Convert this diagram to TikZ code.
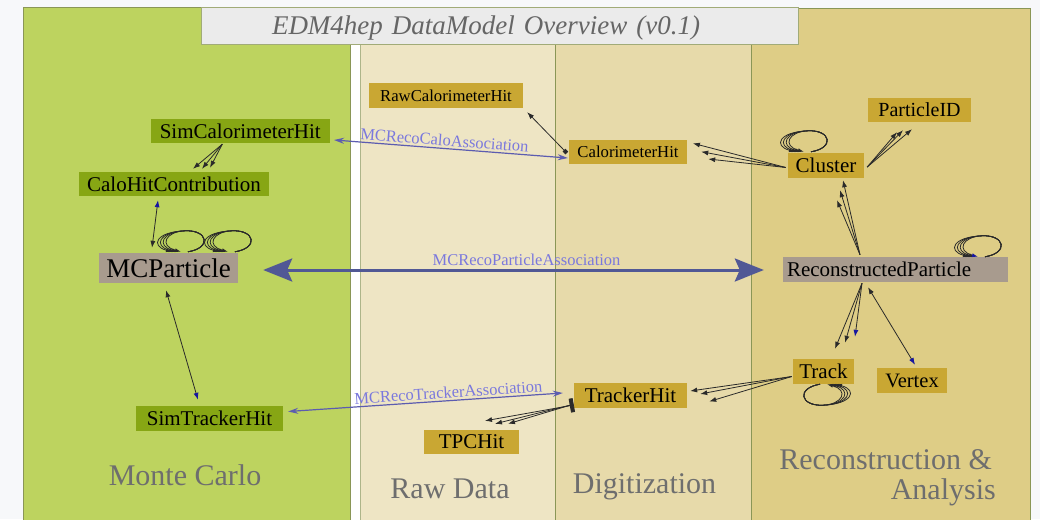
\documentclass[tikz,border=0pt]{standalone}
\usepackage{fontspec}
\setmainfont{Liberation Serif}
\usetikzlibrary{arrows.meta,calc}

\definecolor{pagebg}{HTML}{F7F8FA}
\definecolor{mcarea}{HTML}{BDD35F}
\definecolor{rawarea}{HTML}{EEE5C4}
\definecolor{digiarea}{HTML}{E7DAAA}
\definecolor{recoarea}{HTML}{DECD86}
\definecolor{areaedge}{HTML}{8A9656}
\definecolor{titlefill}{HTML}{EBEBEB}
\definecolor{titletext}{HTML}{666666}
\definecolor{simfill}{HTML}{87A614}
\definecolor{datafill}{HTML}{C9A733}
\definecolor{corefill}{HTML}{A89B8E}
\definecolor{areatext}{HTML}{6E6E6E}
\definecolor{assoc}{HTML}{5C5CB0}
\definecolor{assoctext}{HTML}{7A78DD}
\definecolor{assocthick}{HTML}{515895}
\definecolor{linkcol}{HTML}{2A2A2A}
\definecolor{tipblue}{HTML}{1616A0}

% a fan of self-referencing edges, drawn in a scope placed on the node border
\newcommand\loopfan[2]{%
  \begin{scope}[#1]
    \foreach \n in {0,1,2}
      \draw[loopline] (0,0) .. controls (24,-4) and (20,-22) .. (-3,-21)
        .. controls ({-32+3*\n},-20) and ({-38+3*\n},-6) .. ({-16+3*\n},0);
    \draw[loopline, -{Latex[length=6pt,width=4pt,color=#2]}] (0,0)
      .. controls (24,-4) and (20,-22) .. (-3,-21)
      .. controls (-23,-20) and (-29,-6) .. (-7,0);
  \end{scope}}

\begin{document}
\begin{tikzpicture}[x=1pt,y=-1pt,
  every node/.style={inner sep=0pt},
  entity/.style={rectangle, text=black, font=\fontsize{21}{24}\selectfont},
  simbox/.style={entity, fill=simfill},
  databox/.style={entity, fill=datafill},
  corebox/.style={entity, fill=corefill},
  smalltext/.style={font=\fontsize{16.7}{20}\selectfont},
  arealabel/.style={text=areatext, font=\fontsize{30}{34}\selectfont},
  link/.style={draw=linkcol, line width=0.8pt, -{Latex[length=7pt,width=5pt]}},
  bluelink/.style={draw=linkcol, line width=0.8pt, -{Latex[length=7pt,width=5pt,color=tipblue]}},
  twoway/.style={draw=linkcol, line width=0.8pt,
    {Latex[length=7pt,width=5pt]}-{Latex[length=7pt,width=5pt,color=tipblue]}},
  loopline/.style={draw=linkcol, line width=0.8pt, -{Latex[length=6pt,width=4pt]}},
  assocline/.style={draw=assoc, line width=1.2pt,
    {Stealth[length=10pt,width=6pt]}-{Stealth[length=10pt,width=6pt]}},
  bigassoc/.style={draw=assocthick, line width=3pt,
    {Stealth[length=29pt,width=23pt,inset=5pt]}-{Stealth[length=29pt,width=23pt,inset=5pt]}},
  assoclabel/.style={text=assoctext, font=\fontsize{16.5}{18}\selectfont, sloped, above=2pt},
]
\useasboundingbox (0,0) rectangle (1040,519);
\fill[pagebg] (0,0) rectangle (1040,519);

% ---- areas ----
\filldraw[fill=mcarea, draw=areaedge, line width=1pt] (23,8) rectangle (350.5,540);
\fill[white] (351,8) rectangle (360,540);
\filldraw[fill=rawarea, draw=areaedge!70, line width=0.8pt] (360,8) rectangle (555,540);
\filldraw[fill=digiarea, draw=areaedge, line width=0.8pt] (555,8) rectangle (751,540);
\filldraw[fill=recoarea, draw=areaedge, line width=0.8pt] (751,8) rectangle (1030.5,540);

\node[draw=areaedge!80, fill=titlefill, line width=1pt, minimum width=597, minimum height=37,
      text width=597, align=left, text=titletext, text height=20pt, text depth=3pt,
      font=\fontsize{27}{30}\selectfont\itshape] (title) at (499.5,26.5)
      {\hspace*{71pt}EDM4hep DataModel Overview (v0.1)};

% ---- area titles ----
\node[arealabel, anchor=base] (mclabel) at (185,485) {Monte Carlo};
\node[arealabel, anchor=base] (rawlabel) at (450,498) {Raw Data};
\node[arealabel, anchor=base] (digilabel) at (644.5,493) {Digitization};
\node[arealabel, anchor=base east] (recolabel) at (992,469) {Reconstruction \&};
\node[arealabel, anchor=base east] (analabel) at (996,499) {Analysis};

% ---- data types ----
\node[simbox, minimum width=179, minimum height=24] (SimCalo) at (240.3,131) {SimCalorimeterHit};
\node[simbox, minimum width=190, minimum height=24] (CHC) at (174,184) {CaloHitContribution};
\node[corebox, minimum width=139, minimum height=30, font=\fontsize{27}{30}\selectfont] (MCP) at (168.5,268) {MCParticle};
\node[simbox, minimum width=147, minimum height=25] (STH) at (209.5,418.5) {SimTrackerHit};

\node[databox, smalltext, minimum width=154, minimum height=25] (RawCalo) at (446,95.5) {RawCalorimeterHit};
\node[databox, smalltext, minimum width=118, minimum height=24] (CaloHit) at (628,152) {CalorimeterHit};
\node[databox, minimum width=113, minimum height=25] (TrkHit) at (630.5,395.5) {TrackerHit};
\node[databox, minimum width=95, minimum height=24] (TPC) at (471.5,442) {TPCHit};

\node[databox, minimum width=103, minimum height=24, font=\fontsize{20}{24}\selectfont] (PID) at (919.5,110) {ParticleID};
\node[databox, minimum width=76, minimum height=25] (Cluster) at (826,165.5) {Cluster};
\node[corebox, minimum width=225, minimum height=25, text width=217, align=left] (RP) at (895.5,269.5) {ReconstructedParticle};
\node[databox, minimum width=61, minimum height=25] (Track) at (823.5,371.5) {Track};
\node[databox, minimum width=70, minimum height=25, font=\fontsize{20.5}{24}\selectfont] (Vertex) at (912,380.5) {Vertex};

% ---- Monte Carlo relations ----
\foreach \dx/\dy in {19/-3, 28/-3, 36/-4}
  \draw[link] ($(SimCalo.south)+(-18,1)$) -- ($(CHC.north)+(\dx,\dy)$);
\draw[twoway] ($(MCP.north)+(-16.5,-5)$) -- ($(CHC.south)+(-16,4)$);
\draw[twoway] ($(MCP.south)+(-2.5,7)$) -- ($(STH.north)+(-11.5,-6)$);
\loopfan{shift={($(MCP.north)+(19.5,-1)$)}}{linkcol}
\loopfan{shift={($(MCP.north)+(66.5,-1)$)}}{linkcol}

% ---- digitization relations ----
\draw[draw=linkcol, line width=0.8pt, {Square[length=4pt,width=4pt]}-{Latex[length=7pt,width=5pt]}]
  ($(CaloHit.west)+(-2,1)$) -- ($(RawCalo.south east)+(4,4)$);
\draw[draw=linkcol, line width=0.8pt, {Rectangle[length=4pt,width=14pt]}-{Latex[length=7pt,width=5pt]}]
  ($(TrkHit.west)+(0,9.5)$) -- ($(TPC.north)+(13.5,-9)$);
\foreach \dx/\dy in {23.5/-6, 36.5/-6}
  \draw[link] ($(TrkHit.west)+(-3,9.5)$) -- ($(TPC.north)+(\dx,\dy)$);

% ---- reconstruction relations ----
\foreach \dx/\dy in {5.7/-8.7, 14/-0.3, 21/7}
  \draw[link] ($(Cluster.west)+(-2,2)$) -- ($(CaloHit.east)+(\dx,\dy)$);
\foreach \dx/\dy in {3/-4.5, 13/-1.5, 22/6}
  \draw[link] ($(Track.west)+(-1,5)$) -- ($(TrkHit.east)+(\dx,\dy)$);
\foreach \dx/\dy in {-22.5/10, -16.5/8, -7.5/7}
  \draw[link] ($(Cluster.east)+(3,1.5)$) -- ($(PID.south)+(\dx,\dy)$);
\foreach \dx/\dy in {11/22, 14/12, 17/2}
  \draw[link] ($(RP.north)+(-35.5,-2)$) -- ($(Cluster.south)+(\dx,\dy)$);
\foreach \dx/\dy in {11.5/-10, 21.5/-16}
  \draw[link] ($(RP.south)+(-33.5,1)$) -- ($(Track.north)+(\dx,\dy)$);
\draw[bluelink] ($(RP.south)+(-33.5,1)$) -- ($(Track.north)+(31.5,-22)$);
\draw[twoway] ($(RP.south)+(-27.5,5)$) -- ($(Vertex.north)+(3,-3)$);
\loopfan{shift={($(Cluster.north)+(-15,-1)$)}}{linkcol}
\loopfan{shift={($(RP.north)+(89.5,0)$)}}{tipblue}
\loopfan{shift={($(Track.south)+(-3.5,0)$)}, xscale=-1, yscale=-1}{linkcol}

% ---- associations between simulation and reconstruction ----
\draw[assocline] ($(SimCalo.east)+(4,9)$) --
  node[assoclabel, pos=0.47] (calolabel) {MCRecoCaloAssociation} ($(CaloHit.west)+(-1,6)$);
\draw[assocline] ($(STH.east)+(5,-7)$) --
  node[assoclabel, pos=0.585] (trklabel) {MCRecoTrackerAssociation} ($(TrkHit.west)+(-11,-2.5)$);
\draw[bigassoc] ($(MCP.east)+(25,2)$) --
  node[assoclabel, pos=0.526, above=1pt] (partlabel) {MCRecoParticleAssociation} ($(RP.west)+(-19,0.5)$);
\end{tikzpicture}
\end{document}
